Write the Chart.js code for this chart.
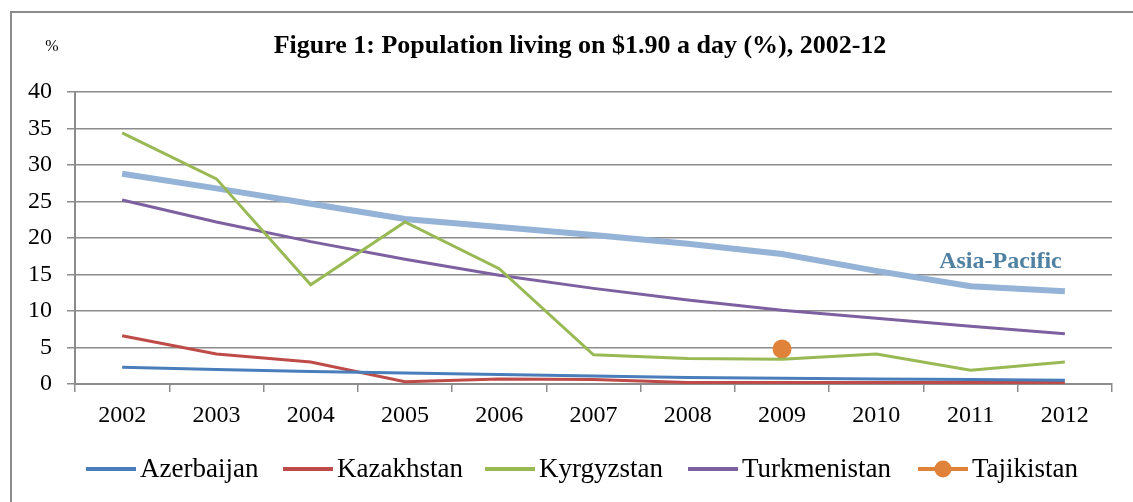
<!DOCTYPE html>
<html>
<head>
<meta charset="utf-8">
<script src="https://cdn.jsdelivr.net/npm/chart.js@4"></script>
<style>
  html, body { margin: 0; padding: 0; background: #fff; }
  #wrap { width: 1133px; height: 502px; }
</style>
</head>
<body>
<div id="wrap"><canvas id="chart" width="1133" height="502"></canvas></div>
<script>
const years = ["2002", "2003", "2004", "2005", "2006", "2007", "2008", "2009", "2010", "2011", "2012"];
const azerbaijan = [2.3, 2.0, 1.7, 1.5, 1.3, 1.1, 0.9, 0.8, 0.7, 0.6, 0.5];
const kazakhstan = [6.6, 4.1, 3.0, 0.3, 0.7, 0.6, 0.2, 0.2, 0.2, 0.2, 0.2];
const kyrgyzstan = [34.4, 28.1, 13.6, 22.2, 15.8, 4.0, 3.5, 3.4, 4.1, 1.9, 3.0];
const turkmenistan = [25.2, 22.2, 19.5, 17.1, 14.9, 13.1, 11.5, 10.1, 9.0, 7.9, 6.9];
const tajikistan = [null, null, null, null, null, null, null, 4.8, null, null, null];
const asiaPacific = [28.8, 26.8, 24.7, 22.6, 21.5, 20.4, 19.2, 17.8, 15.5, 13.4, 12.7];
const yTicks = [0, 5, 10, 15, 20, 25, 30, 35, 40];

const serif = "'Liberation Serif', 'DejaVu Serif', serif";

function lineSet(label, data, color, width) {
  return {
    label, data,
    borderColor: color,
    backgroundColor: color,
    borderWidth: width,
    pointRadius: 0,
    tension: 0,
    spanGaps: false
  };
}

// frame, title, % label, Asia-Pacific tag and legend
const decor = {
  id: "decor",
  afterDraw(chart) {
    const ctx = chart.ctx;
    ctx.save();
    ctx.strokeStyle = "#8c8c8c";
    ctx.lineWidth = 2;
    ctx.strokeRect(11, 12, 1140, 500);

    ctx.fillStyle = "#000";
    ctx.textBaseline = "middle";
    ctx.textAlign = "center";
    ctx.font = "bold 26px " + serif;
    ctx.fillText("Figure 1: Population living on $1.90 a day (%), 2002-12", 580, 46);
    ctx.font = "16px " + serif;
    ctx.fillText("%", 52, 47);

    const xs = chart.scales.x, ys = chart.scales.y;
    ctx.fillStyle = "#4f81a3";
    ctx.font = "bold 24px " + serif;
    ctx.fillText("Asia-Pacific", (xs.getPixelForValue(8) + xs.getPixelForValue(9)) / 2 + 77, ys.getPixelForValue(16.7));

    // legend
    const items = chart.data.datasets.filter(d => d.label !== "Asia-Pacific");
    const starts = [86, 283, 485, 688, 918];
    ctx.font = "27px " + serif;
    ctx.textAlign = "left";
    items.forEach((d, i) => {
      const x = starts[i], y = 469;
      ctx.strokeStyle = d.borderColor;
      ctx.lineWidth = 4;
      ctx.beginPath();
      ctx.moveTo(x, y);
      ctx.lineTo(x + 50, y);
      ctx.stroke();
      if (d.label === "Tajikistan") {
        ctx.fillStyle = d.backgroundColor;
        ctx.beginPath();
        ctx.arc(x + 25, y, 8.5, 0, Math.PI * 2);
        ctx.fill();
      }
      ctx.fillStyle = "#000";
      ctx.fillText(d.label, x + 54, y + 1);
    });
    ctx.restore();
  }
};

new Chart(document.getElementById("chart"), {
  type: "line",
  data: {
    labels: years,
    datasets: [
      lineSet("Azerbaijan", azerbaijan, "#4a7ebb", 3),
      lineSet("Kazakhstan", kazakhstan, "#be4b48", 3),
      lineSet("Kyrgyzstan", kyrgyzstan, "#98b954", 3),
      lineSet("Turkmenistan", turkmenistan, "#7d60a0", 3),
      Object.assign(lineSet("Tajikistan", tajikistan, "#e0823a", 3), { pointRadius: 9.5, pointBackgroundColor: "#e0823a", pointBorderWidth: 0 }),
      lineSet("Asia-Pacific", asiaPacific, "#95b3d7", 6)
    ]
  },
  options: {
    responsive: false,
    animation: false,
    layout: { padding: { left: 10, right: 21, top: 92, bottom: 0 } },
    plugins: {
      legend: { display: false },
      title: { display: false },
      tooltip: { enabled: false }
    },
    scales: {
      x: {
        offset: true,
        afterFit(scale) { scale.height = 118; },
        grid: { offset: true, drawOnChartArea: false, color: "#8c8c8c", lineWidth: 1.5, tickLength: 8 },
        border: { color: "#8c8c8c", width: 2 },
        ticks: { color: "#000", font: { family: serif, size: 24 }, padding: 9, maxRotation: 0 }
      },
      y: {
        min: 0,
        max: 40,
        afterFit(scale) { scale.width = 65; },
        afterBuildTicks(scale) { scale.ticks = yTicks.map(v => ({ value: v })); },
        grid: { color: "#8c8c8c", lineWidth: 1.5, tickLength: 8 },
        border: { color: "#8c8c8c", width: 2 },
        ticks: { color: "#000", font: { family: serif, size: 24 }, padding: 15 }
      }
    }
  },
  plugins: [decor]
});
</script>
</body>
</html>
